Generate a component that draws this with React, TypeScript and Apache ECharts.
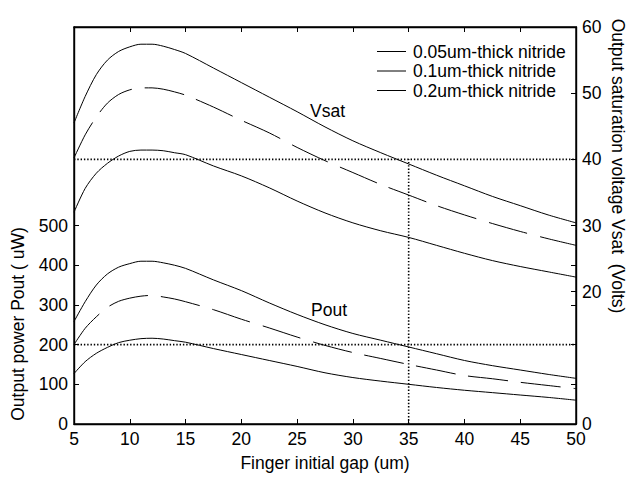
import { useEffect, useRef } from "react";
import * as echarts from "echarts";

// Finger initial gap (um) sample points
const gap = [5, 6, 7, 8, 9, 10, 11, 12, 13, 14, 15, 17.5, 20, 22.5, 25, 27.5, 30, 32.5, 35, 37.5, 40, 42.5, 45, 47.5, 50];

// Output saturation voltage Vsat (Volts)
const vsat005 = [45.5, 49.5, 52.8, 55.0, 56.3, 57.0, 57.4, 57.4, 57.1, 56.6, 56.0, 53.8, 51.6, 49.4, 47.2, 44.9, 42.8, 41.0, 39.3, 37.6, 36.0, 34.4, 33.0, 31.6, 30.4];
const vsat01 = [40.2, 43.7, 46.4, 48.5, 49.8, 50.5, 50.8, 50.8, 50.6, 50.2, 49.7, 47.9, 45.9, 44.0, 41.8, 39.8, 38.0, 36.2, 34.6, 33.0, 31.6, 30.3, 29.1, 28.0, 27.0];
const vsat02 = [32.0, 35.6, 37.9, 39.4, 40.5, 41.2, 41.4, 41.4, 41.3, 41.0, 40.7, 39.0, 37.5, 35.7, 33.7, 31.9, 30.4, 29.2, 28.2, 27.0, 25.8, 24.7, 23.8, 23.0, 22.2];

// Output power Pout (uW)
const pout005 = [258, 308, 350, 378, 395, 404, 410, 410, 406, 400, 392, 363, 336, 305, 276, 250, 228, 211, 194, 177, 160, 147, 136, 125, 115];
const pout01 = [200, 241, 270, 294, 309, 317, 322, 324, 320, 315, 308, 288, 264, 242, 219, 198, 180, 165, 150, 136, 122, 114, 105, 97, 89];
const pout02 = [127, 157, 178, 193, 205, 211, 215, 216, 214, 210, 206, 190, 175, 160, 145, 129, 117, 108, 100, 92, 85, 79, 73, 67, 60];

const seriesNames = ["0.05um-thick nitride", "0.1um-thick nitride", "0.2um-thick nitride"];

const xTicks = [5, 10, 15, 20, 25, 30, 35, 40, 45, 50];
const topTicks = [10, 15, 20, 25, 30, 35, 40, 45];
const poutTicks = [0, 100, 200, 300, 400, 500];
const poutMirrorTicks = [100, 200, 300, 400, 500];
const vsatTicks = [0, 20, 30, 40, 50, 60];

// Reference guides: design gap and the matching Vsat / Pout levels
const guideGap = 35;
const guideVsat = 40;
const guidePout = 200;

const FONT = '"Liberation Sans", Arial, Helvetica, sans-serif';
const FS = 17.5;

export default function App() {
  const ref = useRef<HTMLDivElement>(null);

  useEffect(() => {
    const chart = echarts.init(ref.current!, null, { renderer: "svg" });

    const pair = (ys: number[]) => gap.map((g, i) => [g, ys[i]]);
    const curve = (name: string, ys: number[], axis: number, dashed: boolean) => ({
      type: "line",
      name,
      yAxisIndex: axis,
      data: pair(ys),
      symbol: "none",
      showSymbol: false,
      smooth: 0.3,
      silent: true,
      lineStyle: { color: "#000", width: 1, type: dashed ? [40, 13] : "solid" },
    });
    const guide = (data: number[][], axis: number) => ({
      type: "line",
      yAxisIndex: axis,
      data,
      symbol: "none",
      showSymbol: false,
      silent: true,
      lineStyle: { color: "#000", width: 1.6, type: [1.4, 1.9] },
    });

    const mkTick = (values: number[]) => ({
      show: true,
      inside: true,
      length: 5,
      customValues: values,
      lineStyle: { color: "#000", width: 1 },
    });
    const mkLabel = (values: number[], margin: number) => ({
      color: "#000",
      fontFamily: FONT,
      fontSize: FS,
      lineHeight: 12,
      margin,
      customValues: values,
    });
    const frameLine = { show: true, onZero: false, lineStyle: { color: "#000", width: 1.4 } };

    const legendRows = seriesNames.map((n, i) => {
      const y = 51.5 + i * 19.5;
      return [
        { type: "line", shape: { x1: 377, y1: y, x2: 406, y2: y }, style: { stroke: "#000", lineWidth: 1 } },
        {
          type: "text",
          x: 413,
          y,
          style: { text: n, fill: "#000", font: `${FS}px ${FONT}`, textAlign: "left", textVerticalAlign: "middle" },
        },
      ];
    }).flat();

    chart.setOption({
      animation: false,
      backgroundColor: "#fff",
      grid: { left: 74, top: 27, width: 502, height: 397, show: true, borderColor: "#000", borderWidth: 1.4 },
      xAxis: [
        {
          type: "value",
          min: 5,
          max: 50,
          interval: 5,
          position: "bottom",
          axisLine: { ...frameLine },
          axisTick: mkTick(xTicks),
          axisLabel: mkLabel(xTicks, 9),
          splitLine: { show: false },
        },
        {
          type: "value",
          min: 5,
          max: 50,
          interval: 5,
          position: "top",
          axisLine: { ...frameLine },
          axisTick: mkTick(topTicks),
          axisLabel: { show: true, color: "transparent" },
          splitLine: { show: false },
        },
      ],
      yAxis: [
        {
          type: "value",
          min: 0,
          max: 1000,
          position: "left",
          axisLine: { ...frameLine },
          axisTick: mkTick(poutTicks),
          axisLabel: mkLabel(poutTicks, 6),
          splitLine: { show: false },
        },
        {
          type: "value",
          min: 0,
          max: 60,
          position: "right",
          axisLine: { ...frameLine },
          axisTick: mkTick(vsatTicks),
          axisLabel: mkLabel(vsatTicks, 6),
          splitLine: { show: false },
        },
        {
          type: "value",
          min: 0,
          max: 1000,
          position: "right",
          axisLine: { show: false },
          axisTick: mkTick(poutMirrorTicks),
          axisLabel: { show: false },
          splitLine: { show: false },
        },
      ],
      series: [
        curve(seriesNames[0], vsat005, 1, false),
        curve(seriesNames[1], vsat01, 1, true),
        curve(seriesNames[2], vsat02, 1, false),
        curve(seriesNames[0], pout005, 0, false),
        curve(seriesNames[1], pout01, 0, true),
        curve(seriesNames[2], pout02, 0, false),
        guide([[5, guideVsat], [50, guideVsat]], 1),
        guide([[5, guidePout], [50, guidePout]], 0),
        guide([[guideGap, 0], [guideGap, guideVsat]], 1),
      ],
      graphic: [
        ...legendRows,
        {
          type: "text",
          x: 310,
          y: 111,
          style: { text: "Vsat", fill: "#000", font: `${FS}px ${FONT}`, textAlign: "left", textVerticalAlign: "middle" },
        },
        {
          type: "text",
          x: 311,
          y: 310,
          style: { text: "Pout", fill: "#000", font: `${FS}px ${FONT}`, textAlign: "left", textVerticalAlign: "middle" },
        },
        {
          type: "text",
          x: 325,
          y: 463,
          style: { text: "Finger initial gap (um)", fill: "#000", font: `${FS}px ${FONT}`, textAlign: "center", textVerticalAlign: "middle" },
        },
        {
          type: "text",
          x: 18,
          y: 324,
          rotation: Math.PI / 2,
          style: { text: "Output power Pout ( uW)", fill: "#000", font: `${FS}px ${FONT}`, textAlign: "center", textVerticalAlign: "middle" },
        },
        {
          type: "text",
          x: 618,
          y: 166,
          rotation: -Math.PI / 2,
          style: { text: "Output saturation voltage Vsat  (Volts)", fill: "#000", font: `${FS}px ${FONT}`, textAlign: "center", textVerticalAlign: "middle" },
        },
      ],
    });

    return () => chart.dispose();
  }, []);

  return <div ref={ref} style={{ position: "absolute", left: 0, top: 0, width: 627, height: 477 }} />;
}
